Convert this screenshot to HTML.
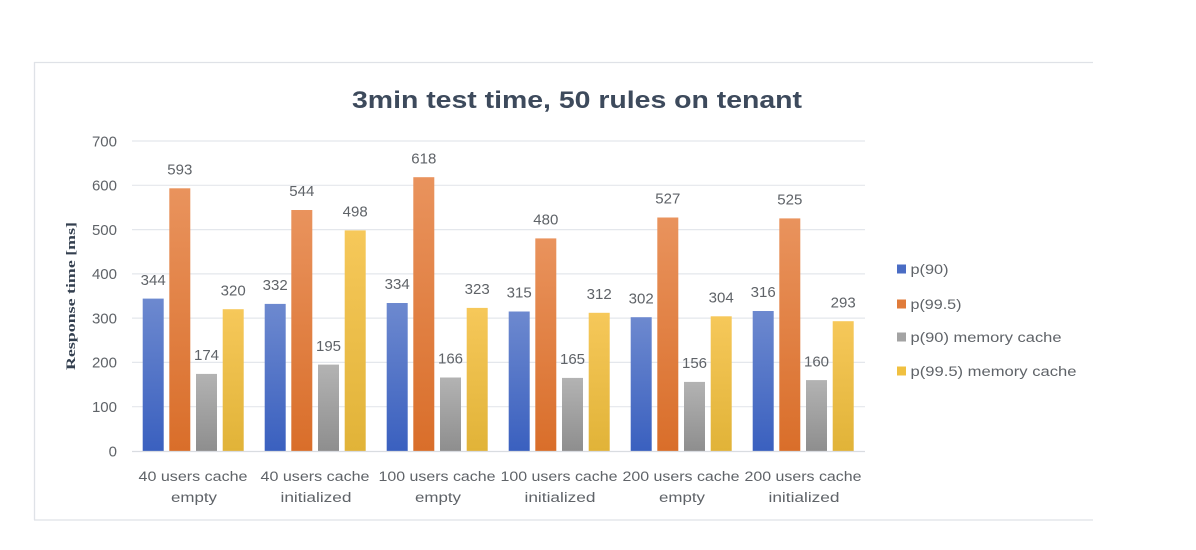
<!DOCTYPE html>
<html>
<head>
<meta charset="utf-8">
<style>
  html,body{margin:0;padding:0;background:#ffffff;}
  svg{display:block;}
  text{font-family:"Liberation Sans",sans-serif;}
</style>
</head>
<body>
<svg width="1196" height="550" viewBox="0 0 1196 550" xmlns="http://www.w3.org/2000/svg">
  <defs>
    <linearGradient id="gB" x1="0" y1="0" x2="0" y2="1">
      <stop offset="0" stop-color="#6d89cf"/>
      <stop offset="1" stop-color="#3a60bf"/>
    </linearGradient>
    <linearGradient id="gO" x1="0" y1="0" x2="0" y2="1">
      <stop offset="0" stop-color="#e9935d"/>
      <stop offset="1" stop-color="#d96e2a"/>
    </linearGradient>
    <linearGradient id="gG" x1="0" y1="0" x2="0" y2="1">
      <stop offset="0" stop-color="#b3b3b3"/>
      <stop offset="1" stop-color="#8e8e8e"/>
    </linearGradient>
    <linearGradient id="gY" x1="0" y1="0" x2="0" y2="1">
      <stop offset="0" stop-color="#f6c85a"/>
      <stop offset="1" stop-color="#e1b338"/>
    </linearGradient>
  </defs>

  <rect x="0" y="0" width="1196" height="550" fill="#ffffff"/>

  <line x1="34" y1="62.5" x2="1093" y2="62.5" stroke="#dfe2e7" stroke-width="1.3"/>
  <line x1="34.5" y1="62" x2="34.5" y2="520" stroke="#dfe2e7" stroke-width="1.3"/>
  <line x1="34" y1="520" x2="1093" y2="520" stroke="#dfe2e7" stroke-width="1.3"/>

  <text x="352" y="108" font-size="24" font-weight="bold" fill="#3d4a5c" textLength="450" lengthAdjust="spacingAndGlyphs">3min test time, 50 rules on tenant</text>

  <g stroke="#e4e7ec" stroke-width="1.2">
    <line x1="132" y1="141" x2="865" y2="141"/>
    <line x1="132" y1="185.3" x2="865" y2="185.3"/>
    <line x1="132" y1="229.6" x2="865" y2="229.6"/>
    <line x1="132" y1="273.9" x2="865" y2="273.9"/>
    <line x1="132" y1="318.1" x2="865" y2="318.1"/>
    <line x1="132" y1="362.4" x2="865" y2="362.4"/>
    <line x1="132" y1="406.7" x2="865" y2="406.7"/>
  </g>

  <g font-size="15" fill="#5f6368" text-anchor="end">
    <text x="117" y="146.3">700</text>
    <text x="117" y="190.6">600</text>
    <text x="117" y="234.9">500</text>
    <text x="117" y="279.2">400</text>
    <text x="117" y="323.4">300</text>
    <text x="117" y="367.7">200</text>
    <text x="117" y="412">100</text>
    <text x="117" y="456.3">0</text>
  </g>

  <text transform="translate(75,296) rotate(-90)" text-anchor="middle" font-size="12.5" font-weight="bold" fill="#333f4f" textLength="148" lengthAdjust="spacingAndGlyphs" style="font-family:'Liberation Serif',serif">Response time [ms]</text>

  <g>
    <rect x="142.7" y="298.6" width="21" height="152.4" fill="url(#gB)"/>
    <rect x="169.3" y="188.3" width="21" height="262.7" fill="url(#gO)"/>
    <rect x="196" y="373.9" width="21" height="77.1" fill="url(#gG)"/>
    <rect x="222.7" y="309.2" width="21" height="141.8" fill="url(#gY)"/>
  </g>
  <g>
    <rect x="264.7" y="303.9" width="21" height="147.1" fill="url(#gB)"/>
    <rect x="291.3" y="210" width="21" height="241" fill="url(#gO)"/>
    <rect x="318" y="364.6" width="21" height="86.4" fill="url(#gG)"/>
    <rect x="344.7" y="230.4" width="21" height="220.6" fill="url(#gY)"/>
  </g>
  <g>
    <rect x="386.7" y="303" width="21" height="148" fill="url(#gB)"/>
    <rect x="413.3" y="177.2" width="21" height="273.8" fill="url(#gO)"/>
    <rect x="440" y="377.5" width="21" height="73.5" fill="url(#gG)"/>
    <rect x="466.7" y="307.9" width="21" height="143.1" fill="url(#gY)"/>
  </g>
  <g>
    <rect x="508.7" y="311.5" width="21" height="139.5" fill="url(#gB)"/>
    <rect x="535.3" y="238.4" width="21" height="212.6" fill="url(#gO)"/>
    <rect x="562" y="377.9" width="21" height="73.1" fill="url(#gG)"/>
    <rect x="588.7" y="312.8" width="21" height="138.2" fill="url(#gY)"/>
  </g>
  <g>
    <rect x="630.7" y="317.2" width="21" height="133.8" fill="url(#gB)"/>
    <rect x="657.3" y="217.5" width="21" height="233.5" fill="url(#gO)"/>
    <rect x="684" y="381.9" width="21" height="69.1" fill="url(#gG)"/>
    <rect x="710.7" y="316.3" width="21" height="134.7" fill="url(#gY)"/>
  </g>
  <g>
    <rect x="752.7" y="311" width="21" height="140" fill="url(#gB)"/>
    <rect x="779.3" y="218.4" width="21" height="232.6" fill="url(#gO)"/>
    <rect x="806" y="380.1" width="21" height="70.9" fill="url(#gG)"/>
    <rect x="832.7" y="321.2" width="21" height="129.8" fill="url(#gY)"/>
  </g>

  <line x1="132" y1="451.5" x2="865" y2="451.5" stroke="#d9dce1" stroke-width="1.3"/>

  <g font-size="15" fill="#5f6368" text-anchor="middle">
    <text x="153.2" y="284.8">344</text>
    <text x="179.8" y="174.5">593</text>
    <text x="206.5" y="360.1">174</text>
    <text x="233.2" y="295.4">320</text>

    <text x="275.2" y="290.1">332</text>
    <text x="301.8" y="196.2">544</text>
    <text x="328.5" y="350.8">195</text>
    <text x="355.2" y="216.6">498</text>

    <text x="397.2" y="289.2">334</text>
    <text x="423.8" y="163.4">618</text>
    <text x="450.5" y="363.7">166</text>
    <text x="477.2" y="294.1">323</text>

    <text x="519.2" y="297.7">315</text>
    <text x="545.8" y="224.6">480</text>
    <text x="572.5" y="364.1">165</text>
    <text x="599.2" y="299">312</text>

    <text x="641.2" y="303.4">302</text>
    <text x="667.8" y="203.7">527</text>
    <text x="694.5" y="368.1">156</text>
    <text x="721.2" y="302.5">304</text>

    <text x="763.2" y="297.2">316</text>
    <text x="789.8" y="204.6">525</text>
    <text x="816.5" y="366.3">160</text>
    <text x="843.2" y="307.4">293</text>
  </g>

  <g font-size="13.5" fill="#5f6368" text-anchor="middle">
    <text x="193" y="481" textLength="109" lengthAdjust="spacingAndGlyphs">40 users cache</text>
    <text x="194" y="502" textLength="46" lengthAdjust="spacingAndGlyphs">empty</text>
    <text x="315" y="481" textLength="109" lengthAdjust="spacingAndGlyphs">40 users cache</text>
    <text x="316" y="502" textLength="71" lengthAdjust="spacingAndGlyphs">initialized</text>
    <text x="437" y="481" textLength="117" lengthAdjust="spacingAndGlyphs">100 users cache</text>
    <text x="438" y="502" textLength="46" lengthAdjust="spacingAndGlyphs">empty</text>
    <text x="559" y="481" textLength="117" lengthAdjust="spacingAndGlyphs">100 users cache</text>
    <text x="560" y="502" textLength="71" lengthAdjust="spacingAndGlyphs">initialized</text>
    <text x="681" y="481" textLength="117" lengthAdjust="spacingAndGlyphs">200 users cache</text>
    <text x="682" y="502" textLength="46" lengthAdjust="spacingAndGlyphs">empty</text>
    <text x="803" y="481" textLength="117" lengthAdjust="spacingAndGlyphs">200 users cache</text>
    <text x="804" y="502" textLength="71" lengthAdjust="spacingAndGlyphs">initialized</text>
  </g>

  <rect x="897" y="264.5" width="9" height="9" fill="#4a6cc4"/>
  <rect x="897" y="299.5" width="9" height="9" fill="#e07b3a"/>
  <rect x="897" y="332.5" width="9" height="9" fill="#a3a3a3"/>
  <rect x="897" y="366.5" width="9" height="9" fill="#f0c040"/>
  <g font-size="13.5" fill="#5f6368">
    <text x="910.5" y="274" textLength="38" lengthAdjust="spacingAndGlyphs">p(90)</text>
    <text x="910.5" y="309" textLength="51" lengthAdjust="spacingAndGlyphs">p(99.5)</text>
    <text x="910.5" y="342" textLength="151" lengthAdjust="spacingAndGlyphs">p(90) memory cache</text>
    <text x="910.5" y="376" textLength="166" lengthAdjust="spacingAndGlyphs">p(99.5) memory cache</text>
  </g>
</svg>
</body>
</html>
